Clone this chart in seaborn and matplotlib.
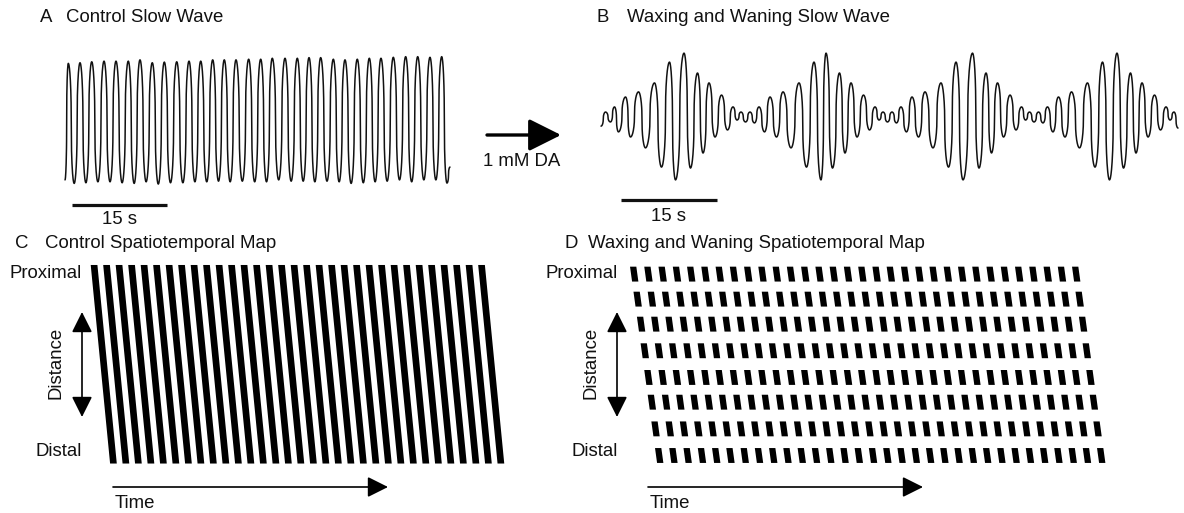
import numpy as np
import pandas as pd
import matplotlib
matplotlib.use("Agg")
import matplotlib.pyplot as plt
import seaborn as sns

# ---------------------------------------------------------------------------
# Data
# ---------------------------------------------------------------------------
# A: control slow waves - times (s) and membrane levels (mV) of each peak / trough
ctrl_peak_t = [1.31, 3.16, 5.01, 6.95, 8.84, 10.78, 12.63, 14.57, 16.47, 18.43,
               20.37, 22.22, 24.11, 25.94, 27.79, 29.79, 31.69, 33.52, 35.53, 37.47,
               39.32, 41.16, 43.16, 45.00, 46.94, 48.84, 50.68, 52.63, 54.58, 56.48,
               58.42, 60.27]
ctrl_peak_mv = [-32.0, -31.8, -31.5, -31.3, -31.3, -31.3, -30.9, -31.8, -31.6, -31.5,
                -31.3, -31.3, -30.9, -30.9, -30.9, -30.7, -30.7, -30.4, -30.4, -30.4,
                -30.2, -30.2, -30.7, -30.9, -30.7, -30.4, -30.4, -30.1, -29.9, -29.9,
                -30.1, -29.9]
ctrl_trough_t = [0.79, 2.24, 4.09, 5.98, 7.90, 9.81, 11.71, 13.60, 15.52, 17.45,
                 19.40, 21.30, 23.17, 25.03, 26.87, 28.79, 30.74, 32.61, 34.53, 36.50,
                 38.40, 40.24, 42.16, 44.08, 45.97, 47.89, 49.76, 51.66, 53.61, 55.53,
                 57.45, 59.35, 61.10]
ctrl_trough_mv = [-68.4, -69.5, -69.3, -69.0, -69.0, -69.3, -69.5, -69.0, -69.7, -69.3,
                  -69.3, -69.0, -69.0, -68.8, -69.0, -68.8, -69.0, -69.0, -68.4, -68.8,
                  -68.8, -69.0, -68.8, -69.0, -69.5, -69.3, -69.0, -68.8, -68.4, -69.0,
                  -68.4, -68.4, -69.4]
ctrl_end = (61.58, -64.4)

# B: waxing and waning slow waves after 1 mM dopamine - successive extrema (s, mV)
ww_t = [1.72, 2.42, 3.20, 3.83, 4.45, 5.55, 6.33, 7.58, 8.67, 10.08, 11.17, 12.42, 13.36,
        14.69, 15.70, 16.80, 17.66, 18.59, 19.53, 20.55, 21.48, 22.34, 22.97, 23.59, 24.30,
        25.00, 25.70, 26.41, 27.27, 28.13, 29.14, 30.16, 31.41, 32.66, 33.83, 35.00, 36.09,
        36.88, 37.89, 38.98, 39.84, 40.78, 41.72, 42.73, 43.67, 44.53, 45.16, 45.78, 46.48,
        47.19, 47.89, 48.59, 49.45, 50.31, 51.33, 52.34, 53.59, 54.84, 56.02, 57.19, 58.28,
        59.77, 60.78, 61.88, 62.73, 63.67, 64.61, 65.63, 66.56, 67.42, 68.05, 68.67, 69.38,
        70.08, 70.78, 71.48, 72.34, 73.20, 74.22, 75.23, 76.48, 77.73, 78.91, 80.08, 81.17,
        82.34, 83.36, 84.45, 85.31, 86.25, 87.19, 88.20, 89.14, 90.00, 90.63, 91.25, 91.88]
ww_mv = [-51.6, -47.2, -50.3, -45.6, -53.4, -42.5, -55.0, -40.9, -58.4, -38.1, -64.4, -31.6, -68.4,
         -28.8, -64.7, -35.0, -60.0, -38.1, -55.0, -41.9, -52.8, -45.6, -49.7, -47.2, -50.3,
         -47.2, -50.6, -45.6, -53.4, -42.5, -55.0, -40.9, -58.4, -38.1, -64.4, -31.6, -68.4,
         -28.8, -64.7, -35.0, -60.0, -38.1, -55.0, -41.9, -52.8, -45.6, -49.7, -47.2, -50.3,
         -47.2, -50.6, -45.6, -53.4, -42.5, -55.0, -40.9, -58.4, -38.1, -64.4, -31.6, -68.4,
         -28.8, -64.7, -35.0, -60.0, -38.1, -55.0, -41.9, -52.8, -45.6, -49.7, -47.2, -50.3,
         -47.2, -50.6, -45.6, -53.4, -42.5, -55.0, -40.9, -58.4, -38.1, -64.4, -31.6, -68.4,
         -28.8, -64.7, -35.0, -60.0, -38.1, -55.0, -41.9, -52.8, -45.6, -49.7, -47.2, -52.2]

# C / D: spatiotemporal maps - onset (s) of each slow wave at the proximal end
wave_onsets = [0.88, 2.80, 4.72, 6.65, 8.57, 10.49, 12.42, 14.34, 16.26, 18.18,
               20.11, 22.03, 23.95, 25.88, 27.80, 29.72, 31.65, 33.57, 35.49, 37.42,
               39.34, 41.26, 43.18, 45.11, 47.03, 48.95, 50.88, 52.80, 54.72, 56.65,
               58.57, 60.49]
ctrl_wave_dur = 1.03      # s, band width in the control map
ctrl_delay = 2.98         # s, proximal -> distal delay (control)
segment_length = 20.0     # mm of intestine mapped
ww_row_starts = [0.0, 2.52, 5.04, 7.72, 10.41, 12.90, 15.59, 18.27]   # mm
ww_row_len = 1.5          # mm
ww_wave_dur = 0.85        # s
ww_delay = 3.69           # s, proximal -> distal delay (waxing/waning)

scale_bar_s = 15

# ---------------------------------------------------------------------------
# Figure
# ---------------------------------------------------------------------------
sns.set_theme(style="white")
plt.rcParams['font.family'] = ['Liberation Sans', 'DejaVu Sans']
W, H = 1184, 513
fig = plt.figure(figsize=(W / 100, H / 100), dpi=100)
INK = "#111111"
FS = 13.4


def panel(left, top, width, height):
    ax = fig.add_axes([left / W, 1 - (top + height) / H, width / W, height / H])
    ax.set_axis_off()
    return ax


def trace(times, levels, n=40, p=0.42):
    """Rounded, steep-flanked strokes joining successive extrema."""
    xs, ys = [], []
    for (t0, v0), (t1, v1) in zip(zip(times[:-1], levels[:-1]), zip(times[1:], levels[1:])):
        u = np.linspace(0, 1, n, endpoint=False)
        c = np.cos(np.pi * u)
        g = np.sign(c) * np.abs(c) ** p
        xs.append(t0 + (t1 - t0) * u)
        ys.append(v0 + (v1 - v0) * (1 - g) / 2)
    xs.append([times[-1]])
    ys.append([levels[-1]])
    return pd.DataFrame({"t": np.concatenate(xs), "mv": np.concatenate(ys)})


# --- A: control slow wave ---------------------------------------------------
ax_a = panel(60, 40, 400, 185)
ax_a.set_xlim(0, 400 / 6.333)
ax_a.set_ylim(-82.5, -24.69)
a_t = [ctrl_trough_t[0]]
a_v = [ctrl_trough_mv[0]]
for i in range(len(ctrl_peak_t)):
    a_t += [ctrl_peak_t[i], ctrl_trough_t[i + 1]]
    a_v += [ctrl_peak_mv[i], ctrl_trough_mv[i + 1]]
a_t.append(ctrl_end[0])
a_v.append(ctrl_end[1])
sns.lineplot(data=trace(a_t, a_v), x="t", y="mv", ax=ax_a, sort=False,
             estimator=None, color=INK, lw=1.1)
ax_a.plot([1.9, 1.9 + scale_bar_s], [-76.25, -76.25], color=INK, lw=2.3,
          solid_capstyle="butt")
ax_a.text(1.9 + scale_bar_s / 2, -80.9, f"{scale_bar_s} s", ha="center", va="center",
          fontsize=FS, color=INK)
ax_a.set_axis_off()

# --- B: waxing and waning slow wave ------------------------------------------
ax_b = panel(590, 40, 594, 185)
ax_b.set_xlim(0, 594 / 6.4)
ax_b.set_ylim(-82.5, -24.69)
sns.lineplot(data=trace(ww_t, ww_mv), x="t", y="mv", ax=ax_b, sort=False,
             estimator=None, color=INK, lw=1.1)
ax_b.plot([4.8, 4.8 + scale_bar_s], [-74.7, -74.7], color=INK, lw=2.3,
          solid_capstyle="butt")
ax_b.text(4.8 + scale_bar_s / 2, -79.7, f"{scale_bar_s} s", ha="center", va="center",
          fontsize=FS, color=INK)
ax_b.set_axis_off()

# --- C: control spatiotemporal map ------------------------------------------
ax_c = panel(85, 262, 425, 206)
ax_c.set_xlim(0, 425 / 6.5)
ax_c.set_ylim(20.45, -0.30)
for t in wave_onsets:
    ax_c.fill([t, t + ctrl_wave_dur, t + ctrl_wave_dur + ctrl_delay, t + ctrl_delay],
              [0, 0, segment_length, segment_length], color="black", lw=0)
ax_c.set_axis_off()

# --- D: waxing and waning spatiotemporal map ---------------------------------
ax_d = panel(623.5, 262, 500, 206)
ax_d.set_xlim(0, 500 / 7.415)
ax_d.set_ylim(20.28, -0.47)
lag = ww_delay / segment_length
for d0 in ww_row_starts:
    d1 = d0 + ww_row_len
    for t in wave_onsets:
        ax_d.fill([t + lag * d0, t + lag * d0 + ww_wave_dur,
                   t + lag * d1 + ww_wave_dur, t + lag * d1],
                  [d0, d0, d1, d1], color="black", lw=0)
ax_d.set_axis_off()

# --- labels and arrows (figure pixel frame) ----------------------------------
ov = fig.add_axes([0, 0, 1, 1], zorder=5)
ov.set_xlim(0, W)
ov.set_ylim(H, 0)
ov.set_axis_off()
ov.patch.set_alpha(0)


def label(x, y, s, **kw):
    kw.setdefault("va", "center")
    kw.setdefault("ha", "left")
    ov.text(x, y, s, fontsize=FS, color=INK, **kw)


label(40, 17, "A")
label(66, 17, "Control Slow Wave")
label(597, 17, "B")
label(627, 17, "Waxing and Waning Slow Wave")
label(15, 243, "C")
label(45, 243, "Control Spatiotemporal Map")
label(564, 243, "D")
label(588, 243, "Waxing and Waning Spatiotemporal Map")
label(522, 161, "1 mM DA", ha="center")

ov.annotate("", xy=(561, 135), xytext=(487, 135),
            arrowprops=dict(arrowstyle="-|>,head_length=1.1,head_width=0.55",
                            lw=2.4, color="black", mutation_scale=18,
                            shrinkA=0, shrinkB=0))

for x_txt, x_arrow, x_time in [(82, 82, 113), (618, 617, 648)]:
    label(x_txt, 273, "Proximal", ha="right")
    label(x_txt, 452, "Distal", ha="right")
    label(x_arrow - 26, 363, "Distance", ha="center", rotation=90)
    ov.annotate("", xy=(x_arrow, 312), xytext=(x_arrow, 417),
                arrowprops=dict(arrowstyle="<|-|>,head_length=0.9,head_width=0.45",
                                lw=1.2, color="black", mutation_scale=14,
                                shrinkA=0, shrinkB=0))
    ov.annotate("", xy=(x_time + 275, 487), xytext=(x_time, 487),
                arrowprops=dict(arrowstyle="-|>,head_length=0.9,head_width=0.45",
                                lw=1.2, color="black", mutation_scale=14,
                                shrinkA=0, shrinkB=0))
    label(x_time + 2, 504, "Time")

fig.savefig("out.png", dpi=100, facecolor="white")
